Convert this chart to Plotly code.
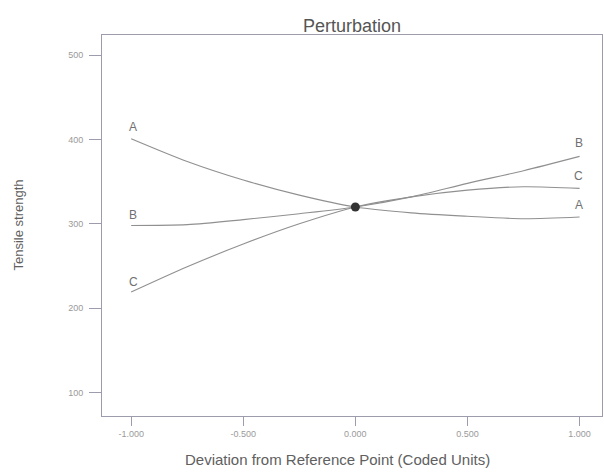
import plotly.graph_objects as go

# Data
x_dev = [-1.0, -0.75, -0.5, -0.25, 0.0, 0.25, 0.5, 0.75, 1.0]
series_A = [401, 374, 352, 334, 320, 313, 309, 306, 308]
series_B = [298, 299, 305, 312, 320, 332, 348, 363, 380]
series_C = [219, 249, 276, 300, 320, 332, 340, 344, 342]
series_names = ["A", "B", "C"]
ref_x = [0.0]
ref_y = [320]
x_ticks = [-1.0, -0.5, 0.0, 0.5, 1.0]
x_tick_labels = ["-1.000", "-0.500", "0.000", "0.500", "1.000"]
y_ticks = [100, 200, 300, 400, 500]
y_tick_labels = ["100", "200", "300", "400", "500"]

FONT = "Liberation Sans, Arial, sans-serif"
LINE_COL = "#909090"
AXIS_COL = "#9c9cac"
TEXT_COL = "#707070"

fig = go.Figure()
all_series = [series_A, series_B, series_C]
for name, ys in zip(series_names, all_series):
    fig.add_trace(go.Scatter(x=x_dev, y=ys, mode="lines", name=name,
                             line=dict(color=LINE_COL, width=1.1, shape="spline", smoothing=0.8),
                             showlegend=False, hoverinfo="skip"))

fig.add_trace(go.Scatter(x=ref_x, y=ref_y, mode="markers",
                         marker=dict(color="#333333", size=9, symbol="circle"),
                         showlegend=False))

# End labels
left_shift = {"A": 3, "B": 2, "C": 1}
right_shift = {"A": 3, "B": 4, "C": 3}
for name, ys in zip(series_names, all_series):
    fig.add_annotation(x=x_dev[0], y=ys[0], text=name, showarrow=False,
                       yanchor="bottom", xanchor="center", yshift=left_shift[name], xshift=2,
                       font=dict(family=FONT, size=12, color=TEXT_COL))
    fig.add_annotation(x=x_dev[-1], y=ys[-1], text=name, showarrow=False,
                       yanchor="bottom", xanchor="center", yshift=right_shift[name], xshift=-1,
                       font=dict(family=FONT, size=12, color=TEXT_COL))

# Axis titles as annotations
fig.add_annotation(xref="paper", yref="paper", x=0.47, y=-0.115,
                   xanchor="center", yanchor="middle",
                   text="Deviation from Reference Point (Coded Units)", showarrow=False,
                   font=dict(family=FONT, size=15, color="#606060"))
fig.add_annotation(xref="paper", yref="paper", x=-0.168, y=0.5, textangle=-90,
                   xanchor="center", yanchor="middle",
                   text="Tensile strength", showarrow=False,
                   font=dict(family=FONT, size=13, color="#606060"))

fig.update_layout(
    width=604, height=472,
    margin=dict(l=102, r=2, t=35, b=56),
    paper_bgcolor="white", plot_bgcolor="white",
    title=dict(text="Perturbation", x=0.5, xanchor="center", xref="paper",
               y=1 - 26 / 472, yanchor="middle",
               font=dict(family=FONT, size=18, color="#555555")),
    font=dict(family=FONT),
    xaxis=dict(range=[-1.13, 1.10], tickvals=x_ticks, ticktext=x_tick_labels,
               showgrid=False, zeroline=False, showline=True, linecolor=AXIS_COL,
               linewidth=1, mirror=True, ticks="outside", ticklen=9, tickcolor=AXIS_COL,
               tickfont=dict(family=FONT, size=9, color="#9a9a9a")),
    yaxis=dict(range=[72, 524], tickvals=y_ticks, ticktext=y_tick_labels,
               showgrid=False, zeroline=False, showline=True, linecolor=AXIS_COL,
               linewidth=1, mirror=True, ticks="outside", ticklen=12, tickcolor=AXIS_COL,
               ticklabelstandoff=4,
               tickfont=dict(family=FONT, size=9, color="#9a9a9a")),
)

fig.write_html("out.html")
